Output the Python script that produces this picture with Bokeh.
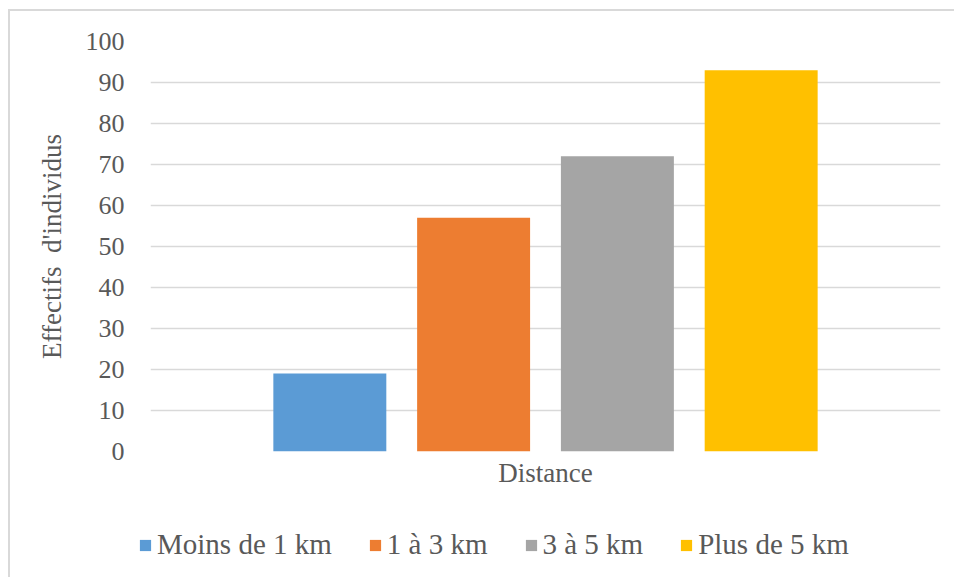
from bokeh.plotting import figure
from bokeh.layouts import column, row
from bokeh.models import Range1d, FactorRange, Legend, LegendItem, ColumnDataSource
from bokeh.transform import dodge
from bokeh.embed import file_html
from bokeh.resources import INLINE

category = ["Distance"]
series = ["Moins de 1 km", "1 à 3 km", "3 à 5 km", "Plus de 5 km"]
values = [19, 57, 72, 93]
colors = ["#5B9BD5", "#ED7D31", "#A5A5A5", "#FFC000"]
offsets = [-0.273, -0.091, 0.091, 0.273]
y_ticks = list(range(0, 101, 10))

FONT = "Liberation Serif"
TXT = "#595959"
BORDER = "2px solid #d9d9d9"

p = figure(width=946, height=489, x_range=FactorRange(*category, range_padding=0),
           y_range=Range1d(0, 100), output_backend="svg", toolbar_location=None,
           min_border_left=140, min_border_right=16, min_border_top=30, min_border_bottom=49)
p.styles = {"border-top": BORDER, "border-left": BORDER}
p.margin = (9, 0, 0, 8)
p.outline_line_color = None

src = ColumnDataSource(dict(cat=category * 1, **{f"v{i}": [v] for i, v in enumerate(values)}))

for i, (name, col, off) in enumerate(zip(series, colors, offsets)):
    p.vbar(x=dodge("cat", off, range=p.x_range), top=f"v{i}", width=0.143,
           source=src, fill_color=col, line_color=None)

p.yaxis.ticker = y_ticks
p.yaxis.axis_line_color = None
p.yaxis.major_tick_line_color = None
p.yaxis.minor_tick_line_color = None
p.yaxis.major_label_text_font = FONT
p.yaxis.major_label_text_font_size = "26px"
p.yaxis.major_label_text_color = TXT
p.yaxis.major_label_standoff = 20
p.yaxis.axis_label = "Effectifs\u00a0 d'individus"
p.yaxis.axis_label_text_font = FONT
p.yaxis.axis_label_text_font_size = "27px"
p.yaxis.axis_label_text_font_style = "normal"
p.yaxis.axis_label_text_color = TXT
p.yaxis.axis_label_standoff = 16

p.xaxis.axis_line_color = None
p.xaxis.major_tick_line_color = None
p.xaxis.minor_tick_line_color = None
p.xaxis.major_label_text_font = FONT
p.xaxis.major_label_text_font_size = "27px"
p.xaxis.major_label_text_color = TXT
p.xaxis.major_label_standoff = 0

p.xgrid.grid_line_color = None
p.ygrid.grid_line_color = "#d9d9d9"
p.ygrid.grid_line_width = 1.5

# legend panel (a second, axis-less canvas under the chart)
q = figure(width=946, height=79, x_range=Range1d(0, 1), y_range=Range1d(0, 1),
           output_backend="svg", toolbar_location=None,
           x_axis_location=None, y_axis_location=None,
           min_border=0, min_border_left=0, min_border_right=0, min_border_top=0, min_border_bottom=0)
q.styles = {"border-left": BORDER}
q.margin = (0, 0, 0, 8)
q.grid.visible = False
q.outline_line_color = None

items = []
for i, (name, col) in enumerate(zip(series, colors)):
    # zero-size swatch source: only the legend entry is visible
    r = q.vbar(x=[0.5], top=[0], bottom=[0], width=0, fill_color=col, line_color=None)
    items.append(LegendItem(label=name, renderers=[r]))

legend = Legend(items=items, orientation="horizontal", location=(128, 16),
                label_text_font=FONT, label_text_font_size="29px", label_text_color=TXT,
                glyph_width=14, glyph_height=14, label_standoff=5, spacing=36,
                border_line_color=None, background_fill_alpha=0, margin=0, padding=0)
q.add_layout(legend, "center")

layout = column(p, row(q), spacing=0)
open("out.html", "w").write(file_html(layout, INLINE))
